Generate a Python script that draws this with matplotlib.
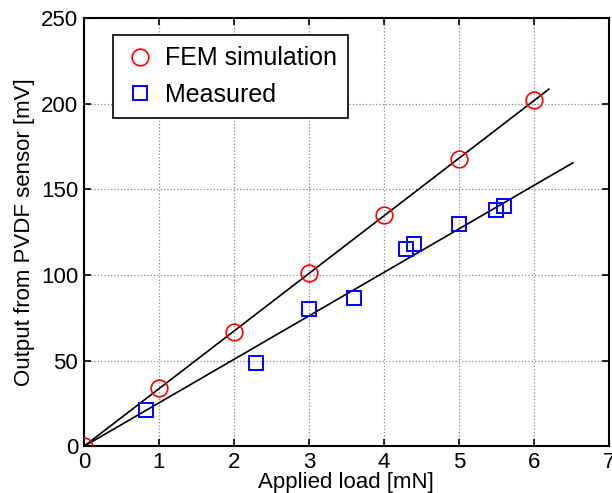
import matplotlib
matplotlib.use("Agg")
import matplotlib.pyplot as plt
import numpy as np

plt.rcParams['font.family'] = ['Liberation Sans', 'DejaVu Sans']

fem_x = [0, 1, 2, 3, 4, 5, 6]
fem_y = [0, 34, 67, 101, 135, 168, 202]
meas_x = [0.83, 2.3, 3.0, 3.6, 4.29, 4.4, 5.0, 5.49, 5.6]
meas_y = [21, 48.5, 80, 86.4, 115, 118, 130, 138, 140]
fem_fit_x = [0, 6.2]
fem_fit_y = [0, 208.5]
meas_fit_x = [0, 6.52]
meas_fit_y = [0, 165.5]
xticks = [0, 1, 2, 3, 4, 5, 6, 7]
yticks = [0, 50, 100, 150, 200, 250]

fig = plt.figure(figsize=(6.12, 4.93), dpi=100)
ax = fig.add_axes([0.137, 0.0945, 0.858, 0.869])

ax.plot(fem_fit_x, fem_fit_y, color='black', lw=1.2, zorder=2)
ax.plot(meas_fit_x, meas_fit_y, color='black', lw=1.2, zorder=2)
ax.plot(fem_x, fem_y, 'o', mfc='none', mec='red', ms=12, mew=1.2, label='FEM simulation', zorder=3)
ax.plot(meas_x, meas_y, 's', mfc='none', mec='blue', ms=10, mew=1.4, label='Measured', zorder=3)

ax.set_xlim(0, 7)
ax.set_ylim(0, 250)
ax.set_xticks(xticks)
ax.set_yticks(yticks)
ax.grid(True, linestyle=':', color='#888888', lw=0.9)
ax.tick_params(direction='in', top=True, right=True, labelsize=16, length=5, width=1.2, pad=4)
for s in ax.spines.values():
    s.set_linewidth(1.5)
ax.set_xlabel('Applied load [mN]', fontsize=16, labelpad=-1)
ax.set_ylabel('Output from PVDF sensor [mV]', fontsize=16, labelpad=4)

leg = ax.legend(loc='upper left', bbox_to_anchor=(0.055, 0.96), fontsize=18, fancybox=False,
                edgecolor='black', framealpha=1, handletextpad=0.35, borderpad=0.45,
                labelspacing=0.5, handlelength=1.3, borderaxespad=0)
leg.get_frame().set_linewidth(1.2)

fig.savefig('out.png', dpi=100)
